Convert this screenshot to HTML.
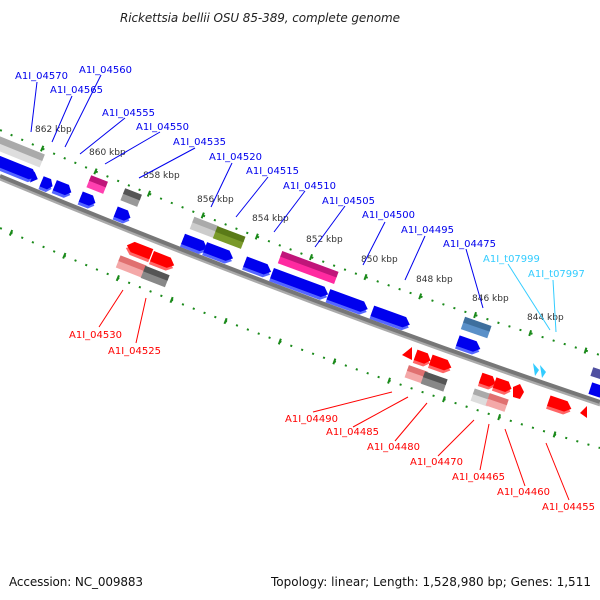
<!DOCTYPE html>
<html><head><meta charset="utf-8"><style>
html,body{margin:0;padding:0;background:#fff;}
svg{display:block;font-family:"DejaVu Sans","Liberation Sans",sans-serif;}
</style></head><body>
<svg width="600" height="600" viewBox="0 0 600 600" xmlns="http://www.w3.org/2000/svg">
<text x="260" y="22" font-size="12" font-style="italic" fill="#222" text-anchor="middle" textLength="280">Rickettsia bellii OSU 85-389, complete genome</text>

<!-- dotted lines -->
<path d="M0,130 Q300,263.5 600,355" fill="none" stroke="#1a8a1a" stroke-width="2" stroke-dasharray="2 9.6"/>
<path d="M0,228 Q300,360 600,448" fill="none" stroke="#1a8a1a" stroke-width="2" stroke-dasharray="2 9.6"/>
<path d="M0,130 Q300,263.5 600,355" fill="none" stroke="#1a8a1a" stroke-width="6" stroke-dasharray="2 56" stroke-dashoffset="-45"/>
<path d="M0,228 Q300,360 600,448" fill="none" stroke="#1a8a1a" stroke-width="6" stroke-dasharray="2 56" stroke-dashoffset="-11"/>

<!-- axis -->
<path d="M0,179 Q300,304 600,405" fill="none" stroke="#aaa" stroke-width="3"/>
<path d="M0,176 Q300,301 600,402" fill="none" stroke="#777" stroke-width="4"/>

<!-- upper boxes -->
<g transform="translate(20,152) rotate(22)"><rect x="-26" y="-3" width="50" height="10" fill="#ddd"/><rect x="-26" y="-7" width="50" height="7" fill="#aaa"/></g>
<g transform="translate(97,185) rotate(21.5)"><rect x="-9" y="-3" width="18" height="9" fill="#ff40b0"/><rect x="-9" y="-7" width="18" height="6" fill="#c0157a"/></g>
<g transform="translate(131,198) rotate(21.4)"><rect x="-9" y="-3" width="18" height="9" fill="#999"/><rect x="-9" y="-7" width="18" height="6" fill="#555"/></g>
<g transform="translate(204,228) rotate(21)"><rect x="-13" y="-3" width="26" height="9" fill="#ccc"/><rect x="-13" y="-7" width="26" height="6" fill="#aaa"/></g>
<g transform="translate(229,238) rotate(20.8)"><rect x="-15" y="-3" width="30" height="9" fill="#7a9a2a"/><rect x="-15" y="-7" width="30" height="6" fill="#5a7a18"/></g>
<g transform="translate(308,268) rotate(20.3)"><rect x="-30" y="-3" width="60" height="9" fill="#ff2aa0"/><rect x="-30" y="-7" width="60" height="6" fill="#c0157a"/></g>
<g transform="translate(476,328) rotate(19.1)"><rect x="-14" y="-3" width="28" height="9" fill="#5a90c8"/><rect x="-14" y="-7" width="28" height="6" fill="#3e6f9e"/></g>
<g transform="translate(598,372) rotate(18.3)"><rect x="-6" y="-3" width="14" height="9" fill="#5050a0"/></g>

<g fill="#0000ee">
<g transform="translate(14,168) rotate(22)"><polygon points="-28,-2 18,-2 24,3 18,8 -28,8" fill="#5566ff"/><polygon points="-28,-6 18,-6 24,0 18,5 -28,5"/></g>
<g transform="translate(35,178) rotate(22)"><polygon points="-3,-6 3,0 -3,6"/></g>
<g transform="translate(47,184) rotate(22)"><polygon points="-6,-2 2,-2 6,3 2,8 -6,8" fill="#5566ff"/><polygon points="-6,-6 2,-6 6,0 2,5 -6,5"/></g>
<g transform="translate(63,189) rotate(21.8)"><polygon points="-9,-2 4,-2 9,3 4,8 -9,8" fill="#5566ff"/><polygon points="-9,-6 4,-6 9,0 4,5 -9,5"/></g>
<g transform="translate(88,200) rotate(21.7)"><polygon points="-8,-2 3,-2 8,3 3,8 -8,8" fill="#5566ff"/><polygon points="-8,-6 3,-6 8,0 3,5 -8,5"/></g>
<g transform="translate(123,215) rotate(21.5)"><polygon points="-8,-2 3,-2 8,3 3,8 -8,8" fill="#5566ff"/><polygon points="-8,-6 3,-6 8,0 3,5 -8,5"/></g>
<g transform="translate(195,244) rotate(21)"><polygon points="-13,-2 7,-2 13,3 7,8 -13,8" fill="#5566ff"/><polygon points="-13,-6 7,-6 13,0 7,5 -13,5"/></g>
<g transform="translate(219,253) rotate(20.8)"><polygon points="-15,-2 9,-2 15,3 9,8 -15,8" fill="#5566ff"/><polygon points="-15,-6 9,-6 15,0 9,5 -15,5"/></g>
<g transform="translate(258,267) rotate(20.6)"><polygon points="-14,-2 8,-2 14,3 8,8 -14,8" fill="#5566ff"/><polygon points="-14,-6 8,-6 14,0 8,5 -14,5"/></g>
<g transform="translate(300,284) rotate(20.3)"><polygon points="-30,-2 24,-2 30,3 24,8 -30,8" fill="#5566ff"/><polygon points="-30,-6 24,-6 30,0 24,5 -30,5"/></g>
<g transform="translate(348,302) rotate(20)"><polygon points="-21,-2 15,-2 21,3 15,8 -21,8" fill="#5566ff"/><polygon points="-21,-6 15,-6 21,0 15,5 -21,5"/></g>
<g transform="translate(391,318) rotate(19.7)"><polygon points="-20,-2 14,-2 20,3 14,8 -20,8" fill="#5566ff"/><polygon points="-20,-6 14,-6 20,0 14,5 -20,5"/></g>
<g transform="translate(469,345) rotate(19.2)"><polygon points="-12,-2 6,-2 12,3 6,8 -12,8" fill="#5566ff"/><polygon points="-12,-6 6,-6 12,0 6,5 -12,5"/></g>
<g transform="translate(596,390) rotate(18.3)"><polygon points="-6,-6 6,-6 6,6 -6,6"/></g>
</g>
<g fill="#33ccff">
<polygon points="533,363 539,370 535,376"/><polygon points="540,365 546,372 542,378"/>
</g>

<g fill="#ff0000">
<g transform="translate(139,250) rotate(21.4)"><polygon points="13,-2 -7,-2 -13,3 -7,8 13,8" fill="#ff6666"/><polygon points="13,-6 -7,-6 -13,0 -7,5 13,5"/></g>
<g transform="translate(163,261) rotate(21.3)"><polygon points="-12,-2 6,-2 12,3 6,8 -12,8" fill="#ff6666"/><polygon points="-12,-6 6,-6 12,0 6,5 -12,5"/></g>
<polygon points="412,347 412,360 402,355"/>
<g transform="translate(423,358) rotate(19.5)"><polygon points="-8,-2 3,-2 8,3 3,8 -8,8" fill="#ff6666"/><polygon points="-8,-6 3,-6 8,0 3,5 -8,5"/></g>
<g transform="translate(441,364) rotate(19.4)"><polygon points="-11,-2 5,-2 11,3 5,8 -11,8" fill="#ff6666"/><polygon points="-11,-6 5,-6 11,0 5,5 -11,5"/></g>
<g transform="translate(488,381) rotate(19.1)"><polygon points="-8,-2 3,-2 8,3 3,8 -8,8" fill="#ff6666"/><polygon points="-8,-6 3,-6 8,0 3,5 -8,5"/></g>
<g transform="translate(503,386) rotate(19)"><polygon points="-9,-2 4,-2 9,3 4,8 -9,8" fill="#ff6666"/><polygon points="-9,-6 4,-6 9,0 4,5 -9,5"/></g>
<polygon points="513,387 520,384 524,392 520,399 513,397"/>
<g transform="translate(560,405) rotate(18.6)"><polygon points="-12,-2 6,-2 12,3 6,8 -12,8" fill="#ff6666"/><polygon points="-12,-6 6,-6 12,0 6,5 -12,5"/></g>
<polygon points="587,406 587,418 580,413"/>
</g>

<g transform="translate(131,267) rotate(21.4)"><rect x="-14" y="-3" width="28" height="9" fill="#f4a8a8"/><rect x="-14" y="-7" width="28" height="6" fill="#e07070"/></g>
<g transform="translate(155,277) rotate(21.3)"><rect x="-13" y="-3" width="26" height="9" fill="#888"/><rect x="-13" y="-7" width="26" height="6" fill="#555"/></g>
<g transform="translate(416,375) rotate(19.5)"><rect x="-10" y="-3" width="20" height="9" fill="#f4a8a8"/><rect x="-10" y="-7" width="20" height="6" fill="#e07070"/></g>
<g transform="translate(434,382) rotate(19.4)"><rect x="-12" y="-3" width="24" height="9" fill="#888"/><rect x="-12" y="-7" width="24" height="6" fill="#555"/></g>
<g transform="translate(481,398) rotate(19)"><rect x="-9" y="-3" width="18" height="9" fill="#ddd"/><rect x="-9" y="-7" width="18" height="6" fill="#aaa"/></g>
<g transform="translate(497,403) rotate(19)"><rect x="-10" y="-3" width="20" height="9" fill="#f4a8a8"/><rect x="-10" y="-7" width="20" height="6" fill="#e07070"/></g>

<g font-size="9" fill="#333">
<text x="35" y="132">862 kbp</text>
<text x="89" y="155">860 kbp</text>
<text x="143" y="178">858 kbp</text>
<text x="197" y="202">856 kbp</text>
<text x="252" y="221">854 kbp</text>
<text x="306" y="242">852 kbp</text>
<text x="361" y="262">850 kbp</text>
<text x="416" y="282">848 kbp</text>
<text x="472" y="301">846 kbp</text>
<text x="527" y="320">844 kbp</text>
</g>

<g stroke="#0000ee" stroke-width="1">
<line x1="37" y1="82" x2="31" y2="132"/>
<line x1="101" y1="75" x2="65" y2="147"/>
<line x1="72" y1="96" x2="52" y2="142"/>
<line x1="125" y1="118" x2="80" y2="154"/>
<line x1="160" y1="132" x2="105" y2="164"/>
<line x1="195" y1="148" x2="139" y2="178"/>
<line x1="232" y1="163" x2="211" y2="207"/>
<line x1="268" y1="177" x2="236" y2="217"/>
<line x1="305" y1="191" x2="274" y2="232"/>
<line x1="345" y1="206" x2="315" y2="247"/>
<line x1="385" y1="222" x2="363" y2="265"/>
<line x1="425" y1="236" x2="405" y2="280"/>
<line x1="466" y1="249" x2="483" y2="308"/>
</g>
<g stroke="#33ccff" stroke-width="1">
<line x1="508" y1="264" x2="550" y2="330"/>
<line x1="553" y1="280" x2="556" y2="332"/>
</g>
<g font-size="10" fill="#0000ee">
<text x="15" y="79">A1I_04570</text>
<text x="79" y="73">A1I_04560</text>
<text x="50" y="93">A1I_04565</text>
<text x="102" y="116">A1I_04555</text>
<text x="136" y="130">A1I_04550</text>
<text x="173" y="145">A1I_04535</text>
<text x="209" y="160">A1I_04520</text>
<text x="246" y="174">A1I_04515</text>
<text x="283" y="189">A1I_04510</text>
<text x="322" y="204">A1I_04505</text>
<text x="362" y="218">A1I_04500</text>
<text x="401" y="233">A1I_04495</text>
<text x="443" y="247">A1I_04475</text>
</g>
<g font-size="10" fill="#33ccff">
<text x="483" y="262">A1I_t07999</text>
<text x="528" y="277">A1I_t07997</text>
</g>

<g stroke="#ff0000" stroke-width="1">
<line x1="123" y1="290" x2="99" y2="327"/>
<line x1="146" y1="298" x2="136" y2="343"/>
<line x1="392" y1="392" x2="313" y2="412"/>
<line x1="408" y1="397" x2="353" y2="427"/>
<line x1="427" y1="403" x2="395" y2="441"/>
<line x1="474" y1="420" x2="438" y2="456"/>
<line x1="489" y1="424" x2="480" y2="470"/>
<line x1="505" y1="429" x2="525" y2="486"/>
<line x1="546" y1="443" x2="569" y2="500"/>
</g>
<g font-size="10" fill="#ff0000">
<text x="69" y="338">A1I_04530</text>
<text x="108" y="354">A1I_04525</text>
<text x="285" y="422">A1I_04490</text>
<text x="326" y="435">A1I_04485</text>
<text x="367" y="450">A1I_04480</text>
<text x="410" y="465">A1I_04470</text>
<text x="452" y="480">A1I_04465</text>
<text x="497" y="495">A1I_04460</text>
<text x="542" y="510">A1I_04455</text>
</g>

<text x="9" y="586" font-size="12" fill="#111" textLength="134">Accession: NC_009883</text>
<text x="271" y="586" font-size="12" fill="#111" textLength="320">Topology: linear; Length: 1,528,980 bp; Genes: 1,511</text>
</svg>
</body></html>
